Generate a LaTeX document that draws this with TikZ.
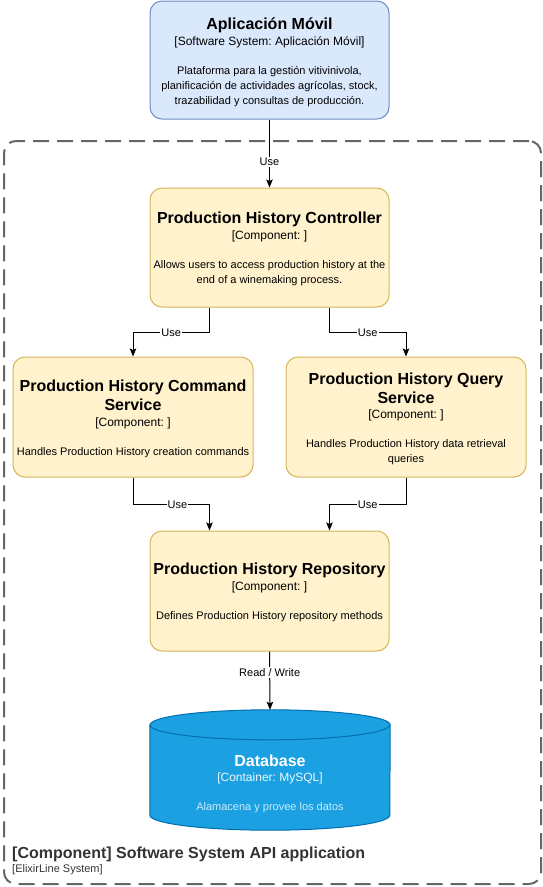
\documentclass[tikz,border=0pt]{standalone}
\usepackage{fontspec}
\setmainfont{Liberation Sans}
\usetikzlibrary{arrows.meta}
\definecolor{bluefill}{HTML}{DAE8FC}
\definecolor{bluedraw}{HTML}{6C8EBF}
\definecolor{yelfill}{HTML}{FFF2CC}
\definecolor{yeldraw}{HTML}{D6B656}
\definecolor{dbfill}{HTML}{1BA1E2}
\definecolor{dbdraw}{HTML}{006EAF}
\definecolor{bnddraw}{HTML}{666666}
\definecolor{bndtext}{HTML}{333333}
\frenchspacing
\begin{document}
\frenchspacing
\begin{tikzpicture}[x=1pt,y=-1pt,
  box/.style={draw=yeldraw,fill=yelfill,rounded corners=12pt,line width=1pt,minimum width=239pt,minimum height=119pt,inner sep=0pt},
  ttl/.style={anchor=base,inner sep=0pt,font=\fontsize{16}{19}\selectfont\bfseries},
  sub/.style={anchor=base,inner sep=0pt,font=\fontsize{12}{14}\selectfont},
  dsc/.style={anchor=base,inner sep=0pt,font=\fontsize{11}{13}\selectfont},
  arr/.style={draw=black,line width=1pt,-{Stealth[length=8pt,width=6.5pt,inset=1.5pt]}},
  lbl/.style={fill=white,inner sep=1pt,font=\fontsize{11}{13}\selectfont}]
\useasboundingbox (0,0) rectangle (543,887);
% boundary
\node[draw=bnddraw,line width=2pt,dash pattern=on 16pt off 8pt,rounded corners=12pt,minimum width=537pt,minimum height=743pt,inner sep=0pt] (sys) at (272.5,512.5) {};
\node[anchor=base west,inner sep=0pt,text=bndtext,font=\fontsize{16}{19}\selectfont\bfseries] (sysT) at (12,858.5) {[Component] Software System API application};
\node[anchor=base west,inner sep=0pt,text=bndtext,font=\fontsize{11}{13}\selectfont] (sysS) at (12,872) {[ElixirLine System]};
% mobile
\node[box,draw=bluedraw,fill=bluefill,minimum height=118pt] (mob) at (269.5,60) {};
\node[ttl] (mobT) at (269.5,29.5) {Aplicación Móvil};
\node[sub] (mobS) at (269.5,45) {[Software System: Aplicación Móvil]};
\node[dsc] (mobD1) at (269.5,74) {Plataforma para la gestión vitivinivola,};
\node[dsc] (mobD2) at (269.5,89) {planificación de actividades agrícolas, stock,};
\node[dsc] (mobD3) at (269.5,104) {trazabilidad y consultas de producción.};
% controller
\node[box] (ctrl) at (269.5,247.5) {};
\node[ttl] (ctrlT) at (269.5,223.5) {Production History Controller};
\node[sub] (ctrlS) at (269.5,239) {[Component: ]};
\node[dsc] (ctrlD1) at (269.5,268) {Allows users to access production history at the};
\node[dsc] (ctrlD2) at (269.5,283) {end of a winemaking process.};
% command
\node[box,minimum width=240pt,minimum height=120pt] (cmd) at (133,417) {};
\node[ttl] (cmdT1) at (133,391.5) {Production History Command};
\node[ttl] (cmdT2) at (133,410.5) {Service};
\node[sub] (cmdS) at (133,426) {[Component: ]};
\node[dsc] (cmdD) at (133,455) {Handles Production History creation commands};
% query
\node[box,minimum width=240pt,minimum height=120pt] (qry) at (406,417) {};
\node[ttl] (qryT1) at (406,384.5) {Production History Query};
\node[ttl] (qryT2) at (406,403.5) {Service};
\node[sub] (qryS) at (406,418) {[Component: ]};
\node[dsc] (qryD1) at (406,447) {Handles Production History data retrieval};
\node[dsc] (qryD2) at (406,462) {queries};
% repository
\node[box,minimum height=120pt] (repo) at (269.5,591) {};
\node[ttl] (repoT) at (269.5,574.5) {Production History Repository};
\node[sub] (repoS) at (269.5,590) {[Component: ]};
\node[dsc] (repoD) at (269.5,619) {Defines Production History repository methods};
% database
\node[minimum width=240pt,minimum height=120pt,inner sep=0pt] (db) at (270,770) {};
\path[draw=dbdraw,fill=dbfill,line width=1pt] ([yshift=-15pt]db.north west) -- ([yshift=15pt]db.south west)
  arc[start angle=180,end angle=360,x radius=120pt,y radius=15pt] -- ([yshift=-15pt]db.north east)
  arc[start angle=0,end angle=180,x radius=120pt,y radius=15pt] -- cycle;
\draw[dbdraw,line width=1pt] ([yshift=-15pt]db.north west) arc[start angle=180,end angle=360,x radius=120pt,y radius=15pt];
\node[ttl,text=white] (dbT) at (270,766.5) {Database};
\node[sub,text=white!92!dbfill] (dbS) at (270,781) {[Container: MySQL]};
\node[dsc,text=white!78!dbfill] (dbD) at (270,810) {Alamacena y provee los datos};
% connectors
\draw[arr] (mob.south) -- node[lbl,pos=0.62]{Use} (ctrl.north);
\draw[arr] ([xshift=-60pt]ctrl.south) -- ++(0,25) -| node[lbl,pos=0.25]{Use} (cmd.north);
\draw[arr] ([xshift=60pt]ctrl.south) -- ++(0,25) -| node[lbl,pos=0.25]{Use} (qry.north);
\draw[arr] (cmd.south) -- ++(0,27) -| node[lbl,pos=0.29]{Use} ([xshift=-60pt]repo.north);
\draw[arr] (qry.south) -- ++(0,27) -| node[lbl,pos=0.25]{Use} ([xshift=60pt]repo.north);
\draw[arr] (repo.south) -- node[lbl,pos=0.36]{Read / Write} (db.north);
\end{tikzpicture}
\end{document}
